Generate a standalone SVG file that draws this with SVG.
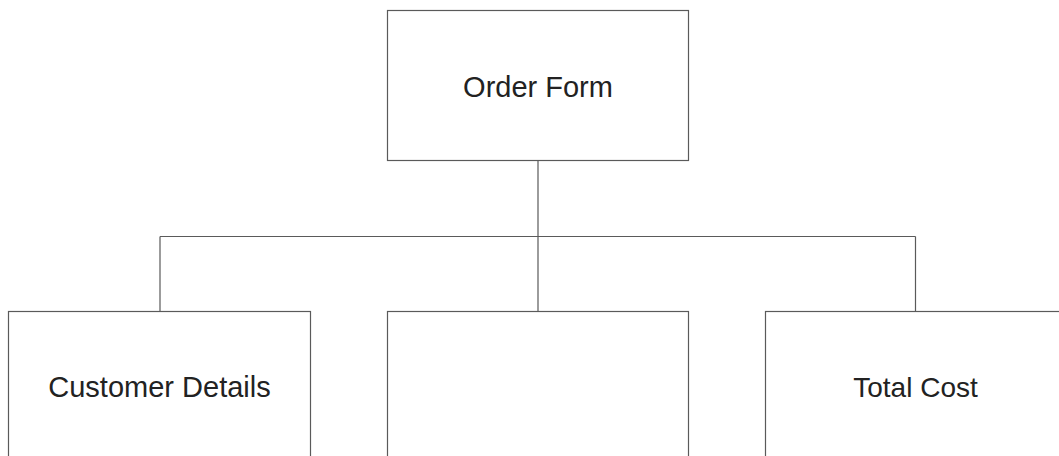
<svg xmlns="http://www.w3.org/2000/svg" width="1059" height="456" viewBox="0 0 1059 456">
<style>
.box{fill:#fff;stroke:#5a5a5a;stroke-width:1.2}
.lbl{font-family:"Liberation Sans",Arial,sans-serif;font-size:28px;fill:#222;text-anchor:middle}
.big{font-size:29px}
.conn{stroke:#5a5a5a;stroke-width:1.2;fill:none}
</style>
<rect width="1059" height="456" fill="#fff"/>
<g id="connectors">
<path class="conn" d="M538 160.5V236.5M160 236.5H915.5M160 236.5V311.5M538 236.5V311.5M915.5 236.5V311.5"/>
</g>
<g id="order-form">
<rect class="box" x="387.5" y="10.5" width="301" height="150"/>
<text class="lbl big" x="538" y="96.5">Order Form</text>
</g>
<g id="customer-details">
<rect class="box" x="8.5" y="311.5" width="302" height="170"/>
<text class="lbl big" x="159.5" y="396.5">Customer Details</text>
</g>
<g id="middle-box">
<rect class="box" x="387.5" y="311.5" width="301" height="170"/>
</g>
<g id="total-cost">
<rect class="box" x="765.5" y="311.5" width="301" height="170"/>
<text class="lbl" x="915.5" y="396.5">Total Cost</text>
</g>
</svg>
